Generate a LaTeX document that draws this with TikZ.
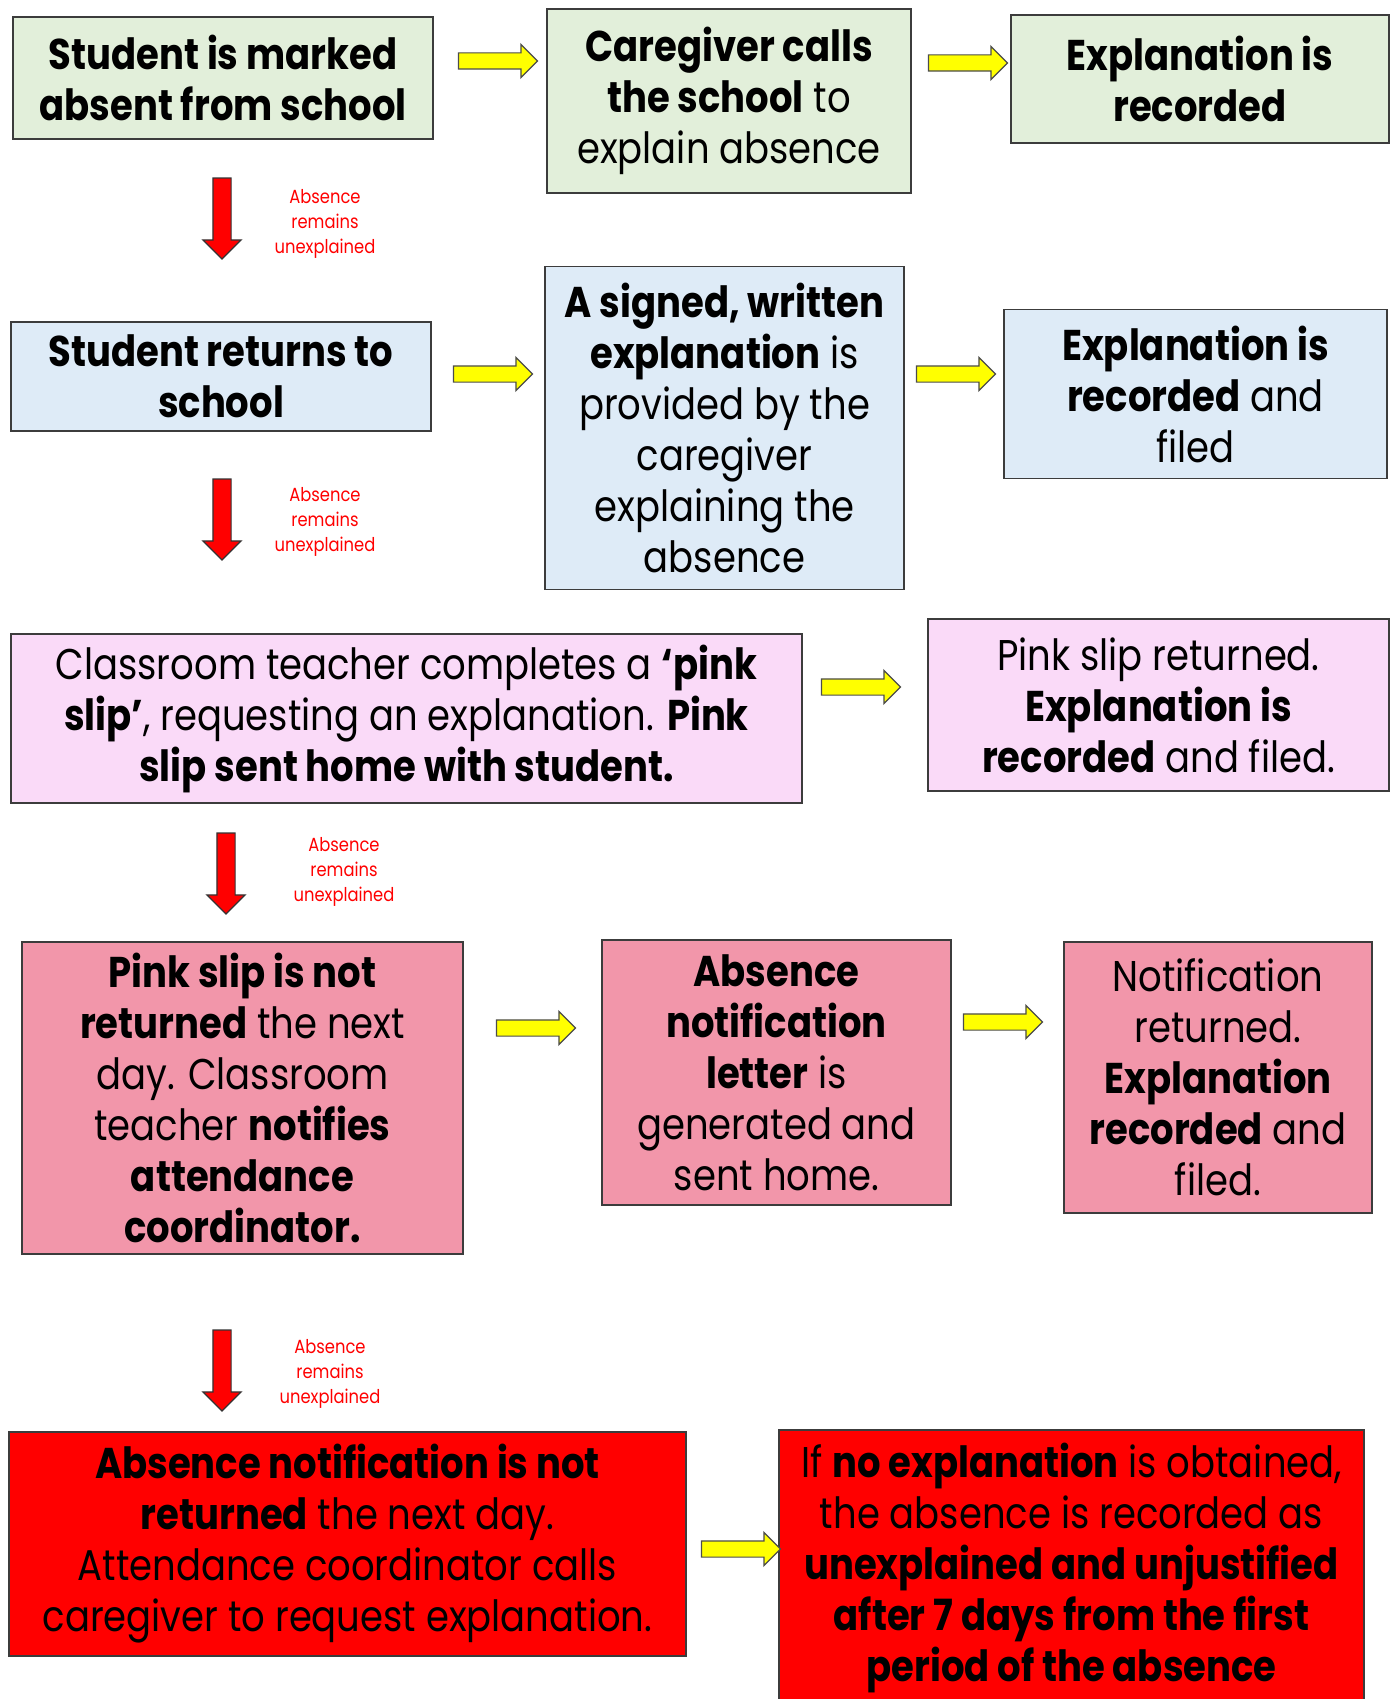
\documentclass[tikz,border=0pt]{standalone}
\usepackage{fontspec}
\setmainfont{Poppins}[FakeStretch=0.86]
\usepackage{tikz}
\usetikzlibrary{shapes.arrows}
\definecolor{boxgreen}{RGB}{226,239,218}
\definecolor{boxblue}{RGB}{222,235,247}
\definecolor{boxpink}{RGB}{250,218,248}
\definecolor{boxrose}{RGB}{242,150,170}
\definecolor{boxred}{RGB}{255,0,0}
\definecolor{edgegrey}{RGB}{60,60,60}
\definecolor{arrowyellow}{RGB}{255,255,0}

\begin{document}
\begin{tikzpicture}[x=1pt,y=-1pt,
      box/.style={draw=edgegrey,line width=1.5pt,align=center,inner sep=0pt,
        font=\fontsize{43}{51}\selectfont},
      yarr/.style={single arrow,draw=black!70,line width=1.2pt,fill=arrowyellow,
        inner sep=7.5pt,single arrow head extend=8.5pt,minimum height=79pt},
      rarr/.style={single arrow,draw=black!80,line width=1.2pt,fill=boxred,rotate=-90,
        inner sep=8.5pt,single arrow head extend=10pt,minimum height=81pt},
      note/.style={text=boxred,align=center,inner sep=0pt,
        font=\fontsize{19}{25}\selectfont}]
    \path[use as bounding box,fill=white] (0,0) rectangle (1394,1699);

    % row 1
    \node[box,fill=boxgreen,minimum width=420pt,minimum height=122pt] (absent) at (223,78)
      {\textbf{Student is marked}\\\textbf{absent from school}};
    \node[box,fill=boxgreen,minimum width=364pt,minimum height=184pt] (calls) at (729,101)
      {\textbf{Caregiver calls}\\\textbf{the school} to\\explain absence};
    \node[box,fill=boxgreen,minimum width=378pt,minimum height=128pt] (rec1) at (1200,79)
      {\textbf{Explanation is}\\\textbf{recorded}};
    \node[yarr] (y1) at (494,61) {};
    \node[yarr] (y2) at (964,63) {};
    \node[rarr] (d1) at (222,214) {};
    \node[note] (n1) at (325,224) {Absence\\remains\\unexplained};

    % row 2
    \node[box,fill=boxblue,minimum width=420pt,minimum height=109pt] (returns) at (221,376.5)
      {\textbf{Student returns to}\\\textbf{school}};
    \node[box,fill=boxblue,minimum width=359pt,minimum height=323pt] (signed) at (724.5,428)
      {\textbf{A signed, written}\\\textbf{explanation} is\\provided by the\\caregiver\\explaining the\\absence};
    \node[box,fill=boxblue,minimum width=383pt,minimum height=169pt] (rec2) at (1195.5,394)
      {\textbf{Explanation is}\\\textbf{recorded} and\\filed};
    \node[yarr] (y3) at (489,374) {};
    \node[yarr] (y4) at (952,374) {};
    \node[rarr] (d2) at (222,515) {};
    \node[note] (n2) at (325,522) {Absence\\remains\\unexplained};

    % row 3
    \node[box,fill=boxpink,minimum width=791pt,minimum height=169pt] (slip) at (406.5,718.5)
      {Classroom teacher completes a \textbf{‘pink}\\\textbf{slip’}, requesting an explanation. \textbf{Pink}\\\textbf{slip sent home with student.}};
    \node[box,fill=boxpink,minimum width=461pt,minimum height=172pt] (rec3) at (1158.5,705)
      {Pink slip returned.\\\textbf{Explanation is}\\\textbf{recorded} and filed.};
    \node[yarr] (y5) at (857,687) {};
    \node[rarr] (d3) at (226,869) {};
    \node[note] (n3) at (344,872) {Absence\\remains\\unexplained};

    % row 4
    \node[box,fill=boxrose,minimum width=441pt,minimum height=312pt] (notret) at (242.5,1098)
      {\textbf{Pink slip is not}\\\textbf{returned} the next\\day. Classroom\\teacher \textbf{notifies}\\\textbf{attendance}\\\textbf{coordinator.}};
    \node[box,fill=boxrose,minimum width=349pt,minimum height=265pt] (letter) at (776.5,1072.5)
      {\textbf{Absence}\\\textbf{notification}\\\textbf{letter} is\\generated and\\sent home.};
    \node[box,fill=boxrose,minimum width=308pt,minimum height=271pt] (rec4) at (1218,1077.5)
      {Notification\\returned.\\\textbf{Explanation}\\\textbf{recorded} and\\filed.};
    \node[yarr] (y6) at (532,1028) {};
    \node[yarr] (y7) at (999,1022) {};
    \node[rarr] (d4) at (222,1366) {};
    \node[note] (n4) at (330,1374) {Absence\\remains\\unexplained};

    % row 5
    \node[box,fill=boxred,minimum width=677pt,minimum height=224pt] (coord) at (347.5,1544)
      {\textbf{Absence notification is not}\\\textbf{returned} the next day.\\Attendance coordinator calls\\caregiver to request explanation.};
    \node[box,fill=boxred,minimum width=585pt,minimum height=276pt] (unjust) at (1071.5,1568)
      {If \textbf{no explanation} is obtained,\\the absence is recorded as\\\textbf{unexplained and unjustified}\\\textbf{after 7 days from the first}\\\textbf{period of the absence}};
    \node[yarr] (y8) at (737,1549) {};
  \end{tikzpicture}
\end{document}
